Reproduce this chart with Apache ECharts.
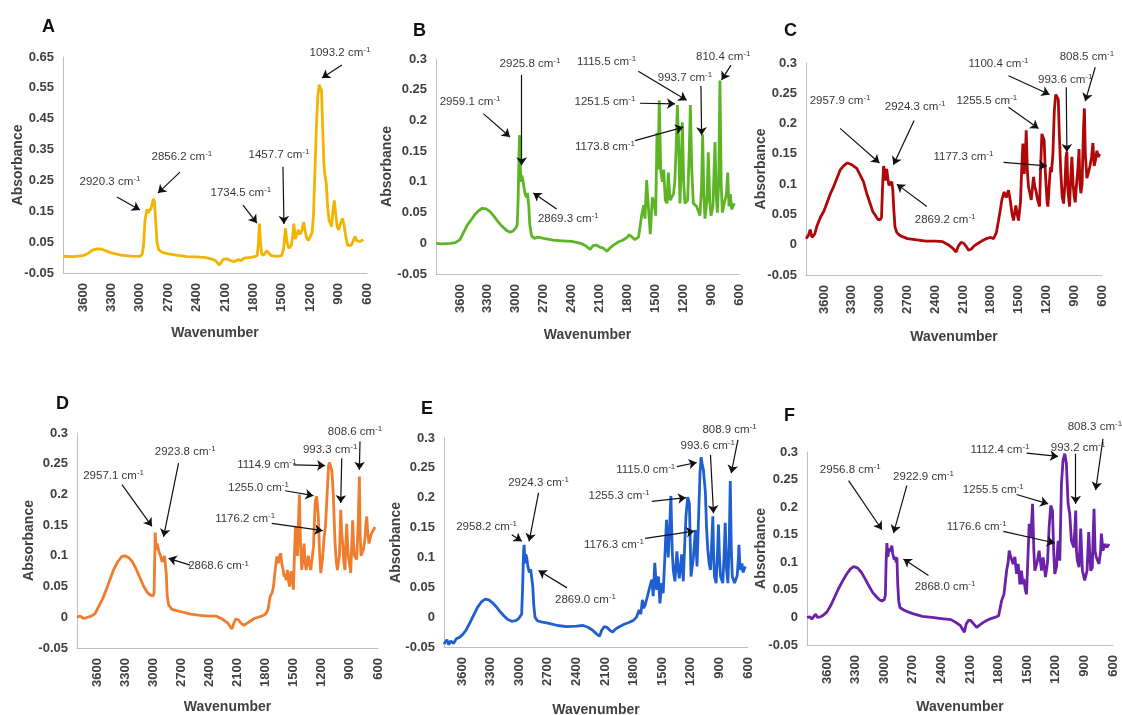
<!DOCTYPE html>
<html><head><meta charset="utf-8">
<script src="https://cdn.jsdelivr.net/npm/echarts@6/dist/echarts.min.js"></script>
<style>html,body{margin:0;padding:0;background:#fff}#c{width:1122px;height:715px}</style>
</head><body><div id="c"></div>
<script>
const panelNames = ['A','B','C','D','E','F'];
const xTicks = [600,900,1200,1500,1800,2100,2400,2700,3000,3300,3600];
const xName = 'Wavenumber';
const yName = 'Absorbance';

// spectra: [wavenumber, absorbance]
const specA = [[3811,0.004],[3700,0.003],[3600,0.006],[3540,0.015],[3500,0.024],[3450,0.028],[3400,0.027],[3350,0.021],[3300,0.015],[3200,0.008],[3100,0.005],[3000,0.004],[2975,0.01],[2960,0.04],[2945,0.12],[2924,0.157],[2910,0.145],[2896,0.14],[2880,0.16],[2855,0.19],[2845,0.18],[2830,0.11],[2818,0.05],[2800,0.025],[2760,0.017],[2700,0.012],[2600,0.007],[2500,0.003],[2400,0.002],[2300,0.0],[2250,-0.004],[2200,-0.01],[2160,-0.024],[2140,-0.018],[2120,-0.006],[2080,-0.004],[2040,-0.01],[2000,-0.013],[1960,-0.006],[1930,-0.01],[1900,-0.002],[1850,0.0],[1800,0.002],[1760,0.006],[1748,0.04],[1736,0.11],[1725,0.05],[1712,0.01],[1690,0.008],[1660,0.022],[1640,0.018],[1610,0.006],[1550,0.004],[1500,0.006],[1480,0.03],[1462,0.095],[1445,0.05],[1425,0.03],[1400,0.04],[1385,0.07],[1372,0.11],[1358,0.06],[1340,0.065],[1325,0.09],[1310,0.075],[1290,0.085],[1270,0.115],[1255,0.09],[1240,0.065],[1220,0.055],[1200,0.06],[1180,0.08],[1165,0.14],[1150,0.28],[1135,0.42],[1120,0.52],[1105,0.56],[1093,0.565],[1080,0.54],[1068,0.42],[1055,0.3],[1045,0.27],[1030,0.24],[1015,0.16],[1000,0.12],[985,0.11],[975,0.1],[960,0.15],[945,0.185],[930,0.14],[915,0.1],[900,0.09],[880,0.11],[860,0.127],[845,0.11],[825,0.07],[805,0.04],[785,0.035],[765,0.04],[745,0.055],[725,0.068],[710,0.055],[695,0.05],[675,0.052],[655,0.056],[640,0.058]];

const specB = [[3855,0.0],[3800,-0.001],[3700,0.0],[3650,0.001],[3600,0.006],[3560,0.018],[3520,0.03],[3480,0.038],[3440,0.047],[3400,0.053],[3360,0.057],[3320,0.056],[3280,0.052],[3240,0.045],[3200,0.037],[3150,0.028],[3100,0.021],[3060,0.018],[3030,0.02],[3000,0.025],[2985,0.03],[2975,0.07],[2965,0.15],[2959,0.176],[2950,0.12],[2942,0.1],[2935,0.11],[2926,0.105],[2915,0.095],[2900,0.08],[2885,0.075],[2875,0.082],[2869,0.085],[2860,0.06],[2850,0.03],[2830,0.012],[2800,0.008],[2760,0.01],[2700,0.008],[2600,0.005],[2500,0.004],[2400,0.003],[2300,0.0],[2250,-0.004],[2200,-0.01],[2170,-0.004],[2130,-0.003],[2100,-0.006],[2060,-0.008],[2020,-0.013],[1990,-0.008],[1950,-0.003],[1900,0.002],[1850,0.005],[1800,0.01],[1780,0.014],[1750,0.01],[1720,0.006],[1700,0.008],[1680,0.01],[1665,0.012],[1647,0.045],[1625,0.062],[1611,0.04],[1593,0.103],[1575,0.06],[1554,0.015],[1532,0.075],[1511,0.065],[1496,0.045],[1482,0.18],[1471,0.12],[1457,0.233],[1442,0.12],[1425,0.1],[1410,0.12],[1392,0.07],[1374,0.065],[1360,0.115],[1342,0.07],[1324,0.075],[1305,0.08],[1290,0.1],[1275,0.16],[1263,0.225],[1250,0.17],[1235,0.065],[1222,0.12],[1209,0.197],[1195,0.1],[1181,0.065],[1152,0.07],[1135,0.15],[1123,0.225],[1108,0.12],[1091,0.065],[1055,0.06],[1020,0.045],[1003,0.09],[991,0.177],[978,0.08],[966,0.04],[945,0.07],[930,0.148],[915,0.07],[901,0.045],[880,0.06],[868,0.12],[858,0.165],[845,0.08],[833,0.05],[818,0.1],[805,0.265],[792,0.1],[779,0.05],[751,0.07],[735,0.08],[722,0.115],[708,0.06],[693,0.08],[679,0.055],[665,0.06],[650,0.065]];

const specC = [[3795,0.01],[3770,0.015],[3750,0.025],[3730,0.012],[3700,0.018],[3679,0.03],[3640,0.045],[3600,0.056],[3571,0.068],[3535,0.083],[3499,0.095],[3460,0.11],[3427,0.123],[3390,0.13],[3348,0.135],[3300,0.132],[3247,0.126],[3210,0.115],[3175,0.104],[3140,0.085],[3103,0.068],[3075,0.055],[3049,0.049],[3020,0.042],[2995,0.041],[2980,0.045],[2970,0.09],[2958,0.13],[2950,0.125],[2940,0.106],[2930,0.115],[2924,0.125],[2912,0.11],[2900,0.098],[2885,0.1],[2869,0.104],[2858,0.09],[2848,0.06],[2835,0.03],[2815,0.02],[2780,0.015],[2700,0.01],[2600,0.008],[2500,0.006],[2400,0.006],[2320,0.005],[2260,0.0],[2210,-0.006],[2175,-0.012],[2150,-0.002],[2120,0.004],[2090,0.002],[2060,-0.004],[2040,-0.009],[2010,-0.007],[1980,-0.002],[1940,0.002],[1900,0.006],[1850,0.01],[1800,0.012],[1771,0.01],[1740,0.02],[1717,0.04],[1695,0.06],[1681,0.074],[1656,0.087],[1634,0.078],[1609,0.09],[1591,0.074],[1570,0.05],[1555,0.04],[1530,0.065],[1515,0.05],[1501,0.04],[1480,0.07],[1468,0.12],[1454,0.167],[1440,0.117],[1428,0.14],[1418,0.189],[1405,0.12],[1393,0.095],[1378,0.085],[1364,0.074],[1350,0.095],[1339,0.112],[1325,0.095],[1314,0.09],[1296,0.075],[1274,0.063],[1262,0.13],[1249,0.183],[1235,0.18],[1224,0.172],[1212,0.12],[1202,0.095],[1192,0.07],[1184,0.063],[1175,0.085],[1165,0.11],[1155,0.128],[1145,0.12],[1130,0.15],[1115,0.22],[1100,0.248],[1085,0.25],[1072,0.24],[1060,0.18],[1045,0.12],[1030,0.08],[1015,0.068],[1000,0.1],[988,0.145],[979,0.153],[968,0.09],[950,0.063],[938,0.11],[925,0.145],[912,0.1],[900,0.08],[889,0.07],[875,0.1],[860,0.125],[848,0.158],[838,0.1],[828,0.085],[815,0.1],[800,0.19],[790,0.225],[780,0.15],[763,0.11],[745,0.12],[730,0.13],[712,0.145],[698,0.168],[685,0.13],[670,0.14],[655,0.155],[640,0.145],[625,0.15]];

const specD = [[3813,0.0],[3780,0.002],[3740,-0.002],[3700,0.0],[3660,0.002],[3620,0.006],[3580,0.018],[3540,0.03],[3500,0.045],[3460,0.062],[3420,0.078],[3380,0.09],[3333,0.099],[3300,0.1],[3260,0.097],[3220,0.09],[3180,0.078],[3140,0.064],[3100,0.05],[3060,0.04],[3030,0.036],[3000,0.035],[2990,0.04],[2985,0.08],[2978,0.138],[2968,0.11],[2958,0.12],[2945,0.12],[2935,0.105],[2920,0.1],[2905,0.09],[2890,0.095],[2878,0.1],[2871,0.1],[2860,0.07],[2850,0.035],[2835,0.02],[2800,0.013],[2750,0.011],[2700,0.009],[2600,0.005],[2500,0.003],[2400,0.002],[2330,0.002],[2260,-0.003],[2200,-0.01],[2160,-0.019],[2140,-0.01],[2120,-0.003],[2090,-0.004],[2060,-0.01],[2030,-0.013],[2000,-0.01],[1960,-0.006],[1920,-0.002],[1880,0.0],[1840,0.002],[1800,0.005],[1775,0.012],[1751,0.034],[1730,0.04],[1716,0.05],[1695,0.08],[1680,0.099],[1663,0.088],[1650,0.1],[1638,0.104],[1625,0.085],[1616,0.08],[1602,0.066],[1590,0.07],[1581,0.06],[1567,0.077],[1555,0.06],[1545,0.05],[1528,0.075],[1515,0.06],[1503,0.045],[1492,0.1],[1481,0.148],[1470,0.11],[1460,0.1],[1450,0.15],[1439,0.2],[1427,0.12],[1414,0.077],[1400,0.1],[1389,0.12],[1378,0.09],[1367,0.077],[1355,0.09],[1343,0.1],[1330,0.085],[1318,0.077],[1300,0.1],[1289,0.115],[1278,0.16],[1268,0.19],[1254,0.197],[1245,0.18],[1236,0.16],[1225,0.11],[1211,0.072],[1200,0.085],[1190,0.1],[1175,0.13],[1161,0.148],[1150,0.18],[1140,0.21],[1128,0.245],[1119,0.252],[1105,0.245],[1094,0.24],[1085,0.22],[1076,0.197],[1066,0.15],[1058,0.12],[1045,0.09],[1033,0.077],[1022,0.09],[1012,0.1],[1004,0.14],[998,0.175],[988,0.14],[977,0.12],[965,0.09],[952,0.077],[943,0.12],[934,0.152],[925,0.12],[916,0.1],[903,0.085],[891,0.072],[880,0.12],[870,0.158],[861,0.12],[852,0.1],[840,0.098],[827,0.094],[812,0.15],[799,0.229],[790,0.13],[781,0.1],[770,0.105],[756,0.11],[738,0.13],[728,0.155],[720,0.164],[710,0.14],[696,0.12],[682,0.13],[667,0.137],[650,0.14],[632,0.147]];

const specE = [[3790,-0.045],[3760,-0.038],[3740,-0.046],[3720,-0.04],[3690,-0.044],[3660,-0.036],[3630,-0.034],[3600,-0.03],[3560,-0.022],[3520,-0.01],[3480,0.003],[3440,0.016],[3400,0.025],[3361,0.03],[3320,0.029],[3280,0.024],[3240,0.017],[3200,0.009],[3160,0.002],[3120,-0.004],[3079,-0.007],[3040,-0.006],[3010,-0.003],[2990,0.0],[2975,0.005],[2965,0.05],[2955,0.11],[2949,0.121],[2940,0.09],[2932,0.105],[2922,0.1],[2910,0.085],[2895,0.075],[2880,0.08],[2868,0.079],[2858,0.05],[2848,0.02],[2835,0.0],[2810,-0.006],[2770,-0.008],[2700,-0.01],[2600,-0.014],[2500,-0.016],[2400,-0.015],[2330,-0.014],[2280,-0.017],[2230,-0.022],[2190,-0.028],[2158,-0.032],[2135,-0.022],[2110,-0.016],[2080,-0.017],[2050,-0.022],[2020,-0.025],[1990,-0.02],[1950,-0.016],[1900,-0.012],[1850,-0.009],[1800,-0.005],[1770,0.0],[1743,0.012],[1725,0.005],[1708,0.029],[1695,0.015],[1680,0.02],[1655,0.035],[1630,0.051],[1609,0.063],[1595,0.035],[1578,0.091],[1560,0.046],[1539,0.068],[1525,0.023],[1504,0.057],[1490,0.04],[1470,0.11],[1455,0.163],[1437,0.1],[1420,0.16],[1409,0.203],[1395,0.11],[1384,0.079],[1367,0.06],[1346,0.11],[1333,0.08],[1321,0.065],[1296,0.105],[1279,0.06],[1262,0.13],[1251,0.169],[1233,0.201],[1215,0.19],[1198,0.068],[1173,0.1],[1152,0.146],[1135,0.085],[1117,0.174],[1104,0.24],[1092,0.268],[1080,0.255],[1068,0.247],[1047,0.208],[1035,0.15],[1022,0.113],[1008,0.09],[994,0.079],[982,0.12],[969,0.169],[960,0.1],[952,0.068],[934,0.057],[922,0.1],[910,0.155],[899,0.1],[888,0.068],[864,0.057],[852,0.1],[839,0.158],[825,0.08],[811,0.057],[798,0.12],[786,0.228],[776,0.12],[765,0.068],[741,0.057],[713,0.07],[700,0.1],[695,0.121],[685,0.085],[677,0.079],[663,0.09],[653,0.075],[640,0.08],[628,0.085]];

const specF = [[3810,0.0],[3780,0.001],[3760,-0.003],[3740,0.0],[3720,0.006],[3700,0.0],[3670,0.001],[3640,0.004],[3600,0.01],[3560,0.022],[3520,0.037],[3480,0.052],[3440,0.065],[3400,0.077],[3360,0.087],[3321,0.092],[3280,0.09],[3240,0.082],[3200,0.07],[3160,0.057],[3120,0.045],[3080,0.037],[3050,0.032],[3024,0.03],[3000,0.032],[2988,0.04],[2980,0.1],[2972,0.135],[2962,0.11],[2950,0.125],[2940,0.12],[2930,0.125],[2920,0.13],[2910,0.115],[2895,0.105],[2885,0.11],[2876,0.1],[2867,0.109],[2858,0.06],[2848,0.03],[2835,0.018],[2800,0.014],[2750,0.01],[2700,0.007],[2600,0.002],[2500,0.0],[2400,-0.002],[2300,-0.004],[2250,-0.009],[2200,-0.015],[2159,-0.027],[2140,-0.012],[2115,-0.005],[2090,-0.006],[2060,-0.012],[2030,-0.018],[2000,-0.014],[1960,-0.009],[1920,-0.005],[1880,-0.002],[1840,0.0],[1800,0.003],[1769,0.03],[1744,0.042],[1716,0.085],[1700,0.1],[1689,0.121],[1671,0.109],[1647,0.097],[1629,0.11],[1612,0.079],[1594,0.097],[1577,0.06],[1560,0.085],[1545,0.06],[1535,0.07],[1520,0.05],[1507,0.042],[1490,0.12],[1479,0.17],[1462,0.145],[1444,0.206],[1430,0.12],[1420,0.085],[1396,0.1],[1375,0.121],[1350,0.085],[1333,0.109],[1308,0.073],[1287,0.1],[1270,0.164],[1253,0.203],[1235,0.194],[1222,0.12],[1211,0.079],[1193,0.091],[1176,0.139],[1158,0.103],[1141,0.242],[1124,0.285],[1106,0.297],[1089,0.279],[1071,0.206],[1054,0.188],[1036,0.139],[1012,0.127],[1000,0.16],[991,0.194],[983,0.12],[974,0.103],[956,0.091],[939,0.161],[921,0.085],[897,0.067],[872,0.085],[855,0.155],[834,0.085],[817,0.09],[808,0.15],[799,0.197],[788,0.12],[775,0.109],[747,0.097],[730,0.12],[722,0.152],[705,0.121],[687,0.133],[663,0.127],[642,0.133]];

// peak labels (cm-1)
const peaksA = ['2920.3','2856.2','1734.5','1457.7','1093.2'];
const peaksB = ['2959.1','2925.8','2869.3','1251.5','1173.8','1115.5','993.7','810.4'];
const peaksC = ['2957.9','2924.3','2869.2','1255.5','1177.3','1100.4','993.6','808.5'];
const peaksD = ['2957.1','2923.8','2868.6','1255.0','1176.2','1114.9','993.3','808.6'];
const peaksE = ['2958.2','2924.3','2869.0','1255.3','1176.3','1115.0','993.6','808.9'];
const peaksF = ['2956.8','2922.9','2868.0','1255.5','1176.6','1112.4','993.2','808.3'];

// callouts in data units: [textWn, textAbs, tailWn, tailAbs, headWn, headAbs]
const calloutA = [[3315,0.245,3241,0.196,2998,0.154],[2555,0.326,2576,0.277,2808,0.209],[1932,0.209,1910,0.170,1763,0.112],[1530,0.332,1488,0.294,1477,0.109],[886,0.663,865,0.624,1076,0.582]];
const calloutB = [[3492,0.231,3349,0.211,3062,0.173],[2847,0.292,2937,0.274,2937,0.127],[2435,0.040,2561,0.056,2812,0.082],[2041,0.231,1665,0.228,1288,0.227],[2041,0.157,1718,0.167,1199,0.189],[2023,0.296,1683,0.280,1163,0.233],[1181,0.269,1009,0.256,1002,0.176],[769,0.304,686,0.290,787,0.266]];
const calloutC = [[3427,0.238,3427,0.192,3002,0.135],[2617,0.227,2628,0.205,2851,0.132],[2293,0.041,2491,0.063,2815,0.100],[1843,0.238,1609,0.227,1285,0.192],[2095,0.145,1663,0.136,1195,0.130],[1717,0.299,1609,0.279,1166,0.248],[997,0.272,986,0.260,979,0.153],[763,0.310,673,0.293,781,0.237]];
const calloutD = [[3422,0.230,3333,0.216,3013,0.148],[2658,0.270,2729,0.251,2889,0.131],[2302,0.083,2605,0.085,2836,0.096],[1876,0.210,1591,0.206,1289,0.198],[2018,0.161,1734,0.153,1190,0.141],[1787,0.248,1503,0.248,1165,0.247],[1111,0.273,987,0.259,998,0.186],[845,0.302,792,0.286,799,0.240]];
const calloutE = [[3343,0.152,3079,0.138,2974,0.127],[2798,0.225,2798,0.208,2897,0.127],[2306,0.029,2499,0.049,2798,0.078],[1954,0.203,1609,0.194,1251,0.200],[2007,0.121,1680,0.132,1163,0.144],[1673,0.247,1346,0.252,1138,0.259],[1022,0.287,994,0.272,962,0.174],[793,0.314,706,0.297,776,0.241]];
const calloutF = [[3356,0.267,3373,0.248,3024,0.159],[2588,0.255,2763,0.239,2902,0.153],[2362,0.055,2536,0.076,2798,0.106],[1856,0.231,1612,0.223,1280,0.206],[2030,0.165,1751,0.156,1211,0.135],[1786,0.304,1507,0.298,1176,0.292],[967,0.308,991,0.297,991,0.206],[790,0.345,705,0.324,782,0.231]];

const FONT = "'Liberation Sans Narrow','Liberation Sans',Arial,sans-serif";
const panels = [
  {spec:specA, peaks:peaksA, call:calloutA, color:'#F2B400', grid:{left:63,top:57,width:304,height:216}, xMax:3811, y:[-0.05,0.65,0.1], title:[37,13], yGap:38, xGap:53},
  {spec:specB, peaks:peaksB, call:calloutB, color:'#5DB526', grid:{left:436,top:59,width:303,height:215}, xMax:3858, y:[-0.05,0.3,0.05], title:[408,17], yGap:42, xGap:54},
  {spec:specC, peaks:peaksC, call:calloutC, color:'#B00808', grid:{left:806,top:63,width:296,height:212}, xMax:3795, y:[-0.05,0.3,0.05], title:[779,17], yGap:38, xGap:55},
  {spec:specD, peaks:peaksD, call:calloutD, color:'#EE7D2E', grid:{left:77,top:433,width:301,height:215}, xMax:3813, y:[-0.05,0.3,0.05], title:[51,390], yGap:41, xGap:52},
  {spec:specE, peaks:peaksE, call:calloutE, color:'#1F5FCF', grid:{left:444,top:438,width:304,height:209}, xMax:3790, y:[-0.05,0.3,0.05], title:[416,395], yGap:41, xGap:56},
  {spec:specF, peaks:peaksF, call:calloutF, color:'#6A22A6', grid:{left:807,top:452,width:306,height:193}, xMax:3810, y:[-0.05,0.3,0.05], title:[779,402], yGap:39, xGap:55}
];

const axisText = {color:'#404040', fontSize:13, fontWeight:'bold', fontFamily:FONT};
const nameText = {color:'#404040', fontSize:14, fontWeight:'bold', fontFamily:FONT};
const option = {animation:false, backgroundColor:'#fff', title:[], grid:[], xAxis:[], yAxis:[], series:[]};

panels.forEach((p,i)=>{
  option.title.push({text:panelNames[i], left:p.title[0], top:p.title[1], textStyle:{fontSize:18, fontWeight:'bold', fontFamily:"'Liberation Sans',Arial,sans-serif", color:'#111'}});
  option.grid.push(Object.assign({outerBoundsMode:'none', containLabel:false}, p.grid));
  option.xAxis.push({gridIndex:i, type:'value', inverse:true, min:600, max:p.xMax, interval:300,
    axisLine:{show:true, onZero:false, lineStyle:{color:'#bfbfbf', width:1}}, axisTick:{show:false}, splitLine:{show:false},
    axisLabel:Object.assign({rotate:90, margin:10, formatter:v=>{const r=Math.round(v); return xTicks.indexOf(r)>=0?String(r):'';}}, axisText),
    name:xName, nameLocation:'middle', nameGap:p.xGap, nameMoveOverlap:false, nameTextStyle:nameText});
  option.yAxis.push({gridIndex:i, type:'value', min:p.y[0], max:p.y[1], interval:p.y[2],
    axisLine:{show:true, onZero:false, lineStyle:{color:'#bfbfbf', width:1}}, axisTick:{show:false}, splitLine:{show:false},
    axisLabel:Object.assign({margin:9, formatter:v=>String(Math.round(v*100)/100)}, axisText),
    name:yName, nameLocation:'middle', nameRotate:90, nameGap:p.yGap, nameMoveOverlap:false, nameTextStyle:nameText});
  option.series.push({type:'line', xAxisIndex:i, yAxisIndex:i, data:p.spec, showSymbol:false, symbol:'none', smooth:false,
    lineStyle:{color:p.color, width:2.8}, itemStyle:{color:p.color}, silent:true, z:2});
  option.series.push({type:'lines', coordinateSystem:'cartesian2d', xAxisIndex:i, yAxisIndex:i, clip:false, silent:true,
    symbol:['none','arrow'], symbolSize:8, lineStyle:{color:'#111', width:1.2, opacity:1, curveness:0}, z:5,
    data:p.call.map(c=>({coords:[[c[2],c[3]],[c[4],c[5]]]}))});
  option.series.push({type:'scatter', xAxisIndex:i, yAxisIndex:i, clip:false, silent:true, symbolSize:1,
    itemStyle:{color:'rgba(0,0,0,0)'}, z:6,
    data:p.call.map((c,k)=>({value:[c[0],c[1]], name:p.peaks[k]})),
    label:{show:true, position:'inside', formatter:prm=>'{v|'+prm.name+' cm}{s|-1}',
      rich:{v:{fontSize:11.5, fontFamily:FONT, color:'#000', lineHeight:14}, s:{fontSize:8, fontFamily:FONT, color:'#000', verticalAlign:'top', lineHeight:9}}}});
});

const chart = echarts.init(document.getElementById('c'), null, {renderer:'canvas'});
chart.setOption(option);
</script></body></html>
